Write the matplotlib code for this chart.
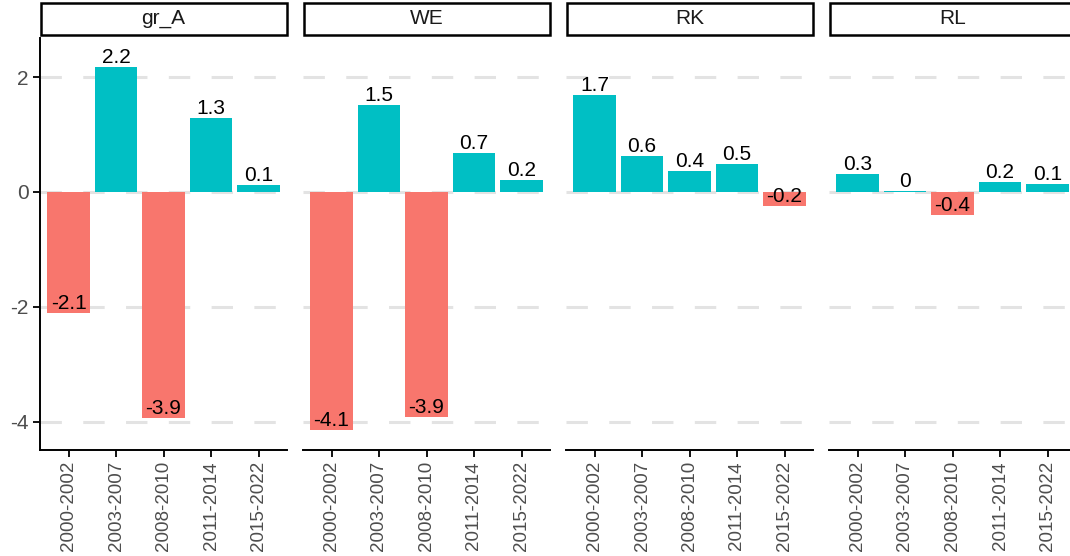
#!/usr/bin/env python3
import matplotlib

matplotlib.use("Agg")

import matplotlib.pyplot as plt
from matplotlib.patches import Rectangle

periods = ["2000-2002", "2003-2007", "2008-2010", "2011-2014", "2015-2022"]
facets = ["gr_A", "WE", "RK", "RL"]

gr_a = [-2.1, 2.17, -3.93, 1.29, 0.12]
we = [-4.14, 1.51, -3.91, 0.68, 0.21]
rk = [1.69, 0.63, 0.37, 0.49, -0.24]
rl = [0.31, 0.01, -0.40, 0.17, 0.14]
values = [gr_a, we, rk, rl]

y_ticks = [-4, -2, 0, 2]

POS = "#00BFC4"
NEG = "#F8766D"
GREY = "#4D4D4D"

W, H = 1070, 556
plt.rcParams["font.family"] = ["Liberation Sans", "DejaVu Sans"]

fig = plt.figure(figsize=(W / 100, H / 100), dpi=100)

panel_left = [40, 303, 566, 829]
panel_w = 247
panel_top, panel_bottom = 38, 450
strip_top, strip_bottom = 3, 35


def fx(px):
    return px / W


def fy(py):
    return 1 - py / H


for k, (name, vals) in enumerate(zip(facets, values)):
    left = panel_left[k]
    ax = fig.add_axes([fx(left), fy(panel_bottom), fx(panel_w), (panel_bottom - panel_top) / H])
    x = list(range(len(periods)))
    colors = [POS if v >= 0 else NEG for v in vals]
    ax.bar(x, vals, width=0.9, color=colors, zorder=2)
    for xi, v in zip(x, vals):
        ax.text(xi, v, f"{round(v, 1):g}" if abs(round(v, 1)) > 0 else "0",
                ha="center", va="bottom", fontsize=15, color="black", zorder=3)
    ax.set_xlim(-0.6, 4.6)
    ax.set_ylim(-4.49, 2.68)
    for t in y_ticks:
        ax.axhline(t, color="#E3E3E3", lw=2.2, ls=(0, (7, 7)), zorder=1)
    ax.set_xticks(x)
    ax.set_xticklabels(periods, rotation=90, fontsize=13.5, color=GREY)
    ax.set_yticks(y_ticks)
    for s in ["top", "right"]:
        ax.spines[s].set_visible(False)
    ax.spines["bottom"].set_linewidth(1.4)
    ax.tick_params(axis="x", length=5, width=1.3, pad=3)
    if k == 0:
        ax.spines["left"].set_linewidth(1.4)
        ax.set_yticklabels([str(t) for t in y_ticks], fontsize=15, color=GREY)
        ax.tick_params(axis="y", length=5, width=1.3, pad=3)
    else:
        ax.spines["left"].set_visible(False)
        ax.tick_params(axis="y", length=0, labelleft=False)

    # facet strip
    fig.add_artist(Rectangle((fx(left + 1), fy(strip_bottom)), fx(panel_w - 1),
                             (strip_bottom - strip_top) / H, transform=fig.transFigure,
                             facecolor="white", edgecolor="black", lw=1.8))
    fig.text(fx(left + panel_w / 2), fy((strip_top + strip_bottom) / 2), name,
             ha="center", va="center", fontsize=15, color="#1A1A1A")

fig.savefig("out.png", dpi=100)
